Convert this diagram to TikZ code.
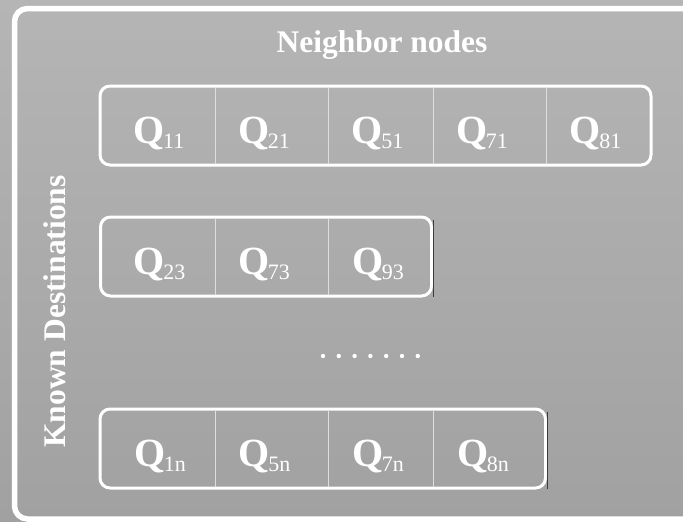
\documentclass[tikz,border=0pt]{standalone}
\usepackage{fontspec}
\setmainfont{Liberation Serif}
\usepackage{tikz}
\usetikzlibrary{calc}

\definecolor{bgtop}{RGB}{181,181,181}
\definecolor{bgbot}{RGB}{161,161,161}
\definecolor{cellline}{RGB}{222,222,222}
\definecolor{edgeshade}{RGB}{60,60,60}

\newcommand{\qv}[1]{\textbf{Q}\kern-1.5pt\raisebox{-5pt}{\fontsize{22}{22}\selectfont #1}}

\tikzset{
	frame/.style={draw=white, line width=5.5pt, rounded corners=13pt},
	rowbox/.style={draw=white, line width=3pt, rounded corners=10pt, inner sep=0pt, minimum height=79pt},
	divider/.style={draw=cellline, line width=0.9pt},
	darkedge/.style={draw=edgeshade, line width=1pt},
	qlabel/.style={anchor=base, text=white, inner sep=0pt, font=\fontsize{40}{40}\selectfont},
	heading/.style={anchor=base, text=white, inner sep=0pt, font=\fontsize{31.5}{31.5}\selectfont\bfseries}
}

\begin{document}
\begin{tikzpicture}[x=1pt, y=-1pt]
	\useasboundingbox (0,0) rectangle (683,522);
	\clip (0,0) rectangle (683,522);
	\shade[top color=bgtop, bottom color=bgbot] (0,0) rectangle (683,522);
	\draw[frame] (14.5,8.5) rectangle (720,519);
	
	\node[heading] (nbr) at (382,52) {Neighbor nodes};
	\node[heading, rotate=90] (dst) at (65,311.5) {Known Destinations};
	
	% first destination
	\node[rowbox, minimum width=551pt] (r1) at (375.5,125.5) {};
	\draw[divider] (215,87.5) -- (215,163.5);
	\draw[divider] (328,87.5) -- (328,163.5);
	\draw[divider] (433,87.5) -- (433,163.5);
	\draw[divider] (546.5,87.5) -- (546.5,163.5);
	\node[qlabel] (q11) at (159,143) {\qv{11}};
	\node[qlabel] (q21) at (264,143) {\qv{21}};
	\node[qlabel] (q51) at (377.5,143) {\qv{51}};
	\node[qlabel] (q71) at (482,143) {\qv{71}};
	\node[qlabel] (q81) at (595.5,143) {\qv{81}};
	
	% second destination
	\node[rowbox, minimum width=331pt] (r2) at (266,256.5) {};
	\draw[darkedge] ([yshift=-4pt]r2.north east) -- ([yshift=1pt]r2.south east);
	\draw[divider] (215,218.5) -- (215,294.5);
	\draw[divider] (328,218.5) -- (328,294.5);
	\node[qlabel] (q23) at (159.5,274) {\qv{23}};
	\node[qlabel] (q73) at (264,274) {\qv{73}};
	\node[qlabel] (q93) at (378,274) {\qv{93}};
	
	\fill[white] (323,356) circle (2.2pt) (338.8,356) circle (2.2pt)
		(354.6,356) circle (2.2pt) (370.4,356) circle (2.2pt)
		(386.2,356) circle (2.2pt) (402,356) circle (2.2pt)
		(417.8,356) circle (2.2pt);
	
	% last destination
	\node[rowbox, minimum width=445.5pt] (r3) at (322.75,448.5) {};
	\draw[darkedge] ([yshift=-4pt]r3.north east) -- ([yshift=1pt]r3.south east);
	\draw[divider] (215,410.5) -- (215,486.5);
	\draw[divider] (328,410.5) -- (328,486.5);
	\draw[divider] (433,410.5) -- (433,486.5);
	\node[qlabel] (q1n) at (160,466) {\qv{1n}};
	\node[qlabel] (q5n) at (264.5,466) {\qv{5n}};
	\node[qlabel] (q7n) at (378,466) {\qv{7n}};
	\node[qlabel] (q8n) at (483,466) {\qv{8n}};
\end{tikzpicture}
\end{document}
